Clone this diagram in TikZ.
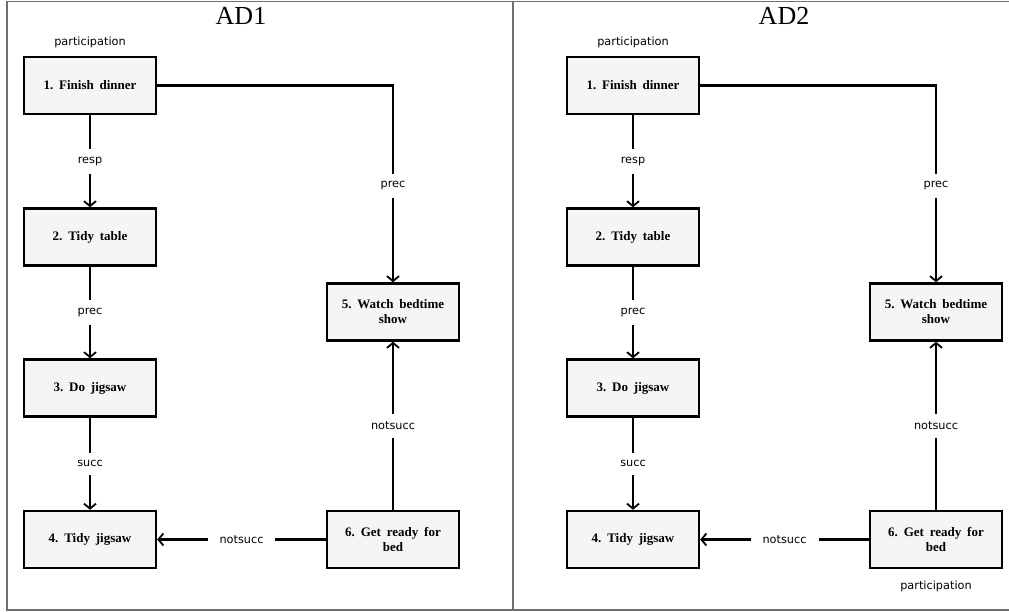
\documentclass[tikz,border=0pt]{standalone}
\usepackage{fontspec}
\setmainfont{Liberation Serif}
\newfontfamily\lblfont{DejaVu Sans}
\usetikzlibrary{arrows.meta,positioning}
\definecolor{boxfill}{HTML}{F5F5F5}
\definecolor{framegray}{HTML}{707070}
\newcommand\boxtextfont{\hyphenpenalty=10000\relax\exhyphenpenalty=10000\relax\frenchspacing\fontsize{13}{15}\selectfont\bfseries\spaceskip=0.45em plus 0.1em minus 0.05em\relax}
\tikzset{
  actbox/.style={draw=black, line width=2.4pt, fill=boxfill, minimum width=132pt, minimum height=57pt,
    text width=116pt, align=flush center, inner sep=0pt, font=\boxtextfont},
  conn/.style={line width=2.1pt, -{Straight Barb[length=5pt,width=12pt,line width=1.8pt]}},
  lbl/.style={fill=white, inner xsep=12pt, inner ysep=8pt, font=\lblfont\fontsize{11.3}{13}\selectfont},
  tag/.style={inner sep=0pt, font=\lblfont\fontsize{11.3}{13}\selectfont},
  ttl/.style={inner sep=0pt, font=\fontsize{26}{28}\selectfont},
  frameline/.style={draw=framegray, line width=1.3pt}
}
\begin{document}
\begin{tikzpicture}[x=1pt,y=-1pt]
\useasboundingbox (0,0) rectangle (1009,612);
% frame
\coordinate (fTL) at (7,1.2);
\coordinate (fBR) at (1012,610);
\coordinate (dT) at (513,1.2);
\coordinate (dB) at (513,610);
\draw[frameline] (fTL) rectangle (fBR);
\draw[frameline] (dT) -- (dB);
% titles
\node[ttl] (t1) at (241,16) {AD1};
\node[ttl] (t2) at (784,16) {AD2};
% panels
\foreach \p/\dx in {a/0, b/543} {
  \node[actbox] (\p1) at (90+\dx,85.5) {1. Finish dinner};
  \node[actbox] (\p2) at (90+\dx,237) {2. Tidy table};
  \node[actbox] (\p3) at (90+\dx,388) {3. Do jigsaw};
  \node[actbox] (\p4) at (90+\dx,539.5) {4. Tidy jigsaw};
  \node[actbox] (\p5) at (393+\dx,312) {5. Watch bedtime show};
  \node[actbox] (\p6) at (393+\dx,539.5) {6. Get ready for bed};
  \draw[conn] (\p1) -- node[lbl] {resp} (\p2);
  \draw[conn] (\p2) -- node[lbl] {prec} (\p3);
  \draw[conn] (\p3) -- node[lbl] {succ} (\p4);
  \draw[conn] (\p6) -- node[lbl] {notsucc} (\p4);
  \draw[conn] (\p6) -- node[lbl] {notsucc} (\p5);
  \draw[conn] (\p1.east) -| node[lbl, pos=0.755] {prec} (\p5.north);
  \node[tag, above=8pt of \p1] (\p1tag) {participation};
}
\node[tag, below=12pt of b6] (b6tag) {participation};
\end{tikzpicture}
\end{document}
